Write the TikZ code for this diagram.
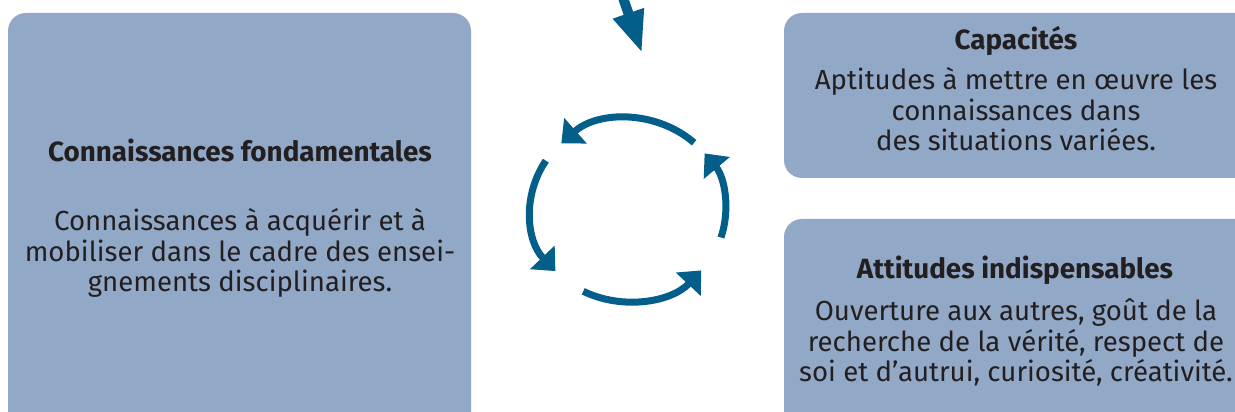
\documentclass[tikz,border=0pt]{standalone}
\usepackage{fontspec}
\setmainfont{Fira Sans}
\usetikzlibrary{arrows.meta}
\definecolor{boxfill}{HTML}{91A8C7}
\definecolor{arrowblue}{HTML}{035F8A}
\definecolor{ink}{HTML}{231F20}
\tikzset{
  panel/.style={fill=boxfill, draw=none, rounded corners=18pt},
  head/.style={font=\fontsize{27.8}{30.5}\selectfont\bfseries, text=ink, anchor=base, inner sep=0pt},
  body/.style={font=\fontsize{27.6}{30.5}\selectfont, text=ink, anchor=base, align=center, inner sep=0pt},
  cyc/.style={draw=arrowblue, line width=7pt, -{Triangle[width=33pt,length=19pt]}},
  bigarrow/.style={draw=arrowblue, line width=10pt, -{Triangle[width=30pt,length=42pt]}}
}
\begin{document}
\begin{tikzpicture}[x=1pt,y=1pt]
\useasboundingbox (0,0) rectangle (1235,412);
\clip (0,0) rectangle (1235,412);
\fill[white] (0,0) rectangle (1235,412);
% panels
\path[panel] (8,-20) rectangle (471,399);
\path[panel] (784,234) rectangle (1260,399);
\path[panel] (784,-20) rectangle (1260,193);
% texts
\node[head] (fh) at (240,250) {Connaissances fondamentales};
\node[body] (fb) at (240,120) {Connaissances à acquérir et à\\mobiliser dans le cadre des ensei-\\gnements disciplinaires.};
\node[head] (ch) at (1016,362) {Capacités};
\node[body] (cb) at (1016,261) {Aptitudes à mettre en œuvre les\\connaissances dans\\des situations variées.};
\node[head] (ah) at (1015,133) {Attitudes indispensables};
\node[body] (ab) at (1016,30) {Ouverture aux autres, goût de la\\recherche de la vérité, respect de\\soi et d’autrui, curiosité, créativité.};
% arrows
\coordinate (top) at (619,426);
\coordinate (toptip) at (642,359);
\draw[bigarrow] (top) -- (toptip);
\coordinate (c) at (628,202);
\draw[cyc] (c) ++(47.3:97.5 and 91.5) arc[start angle=47.3, end angle=133.2, x radius=97.5, y radius=91.5];
\draw[cyc] (c) ++(147.4:97.5 and 91.5) arc[start angle=147.4, end angle=221.9, x radius=97.5, y radius=91.5];
\draw[cyc] (c) ++(242.7:97.5 and 91.5) arc[start angle=242.7, end angle=318.7, x radius=97.5, y radius=91.5];
\draw[cyc] (c) ++(342.5:97.5 and 91.5) arc[start angle=342.5, end angle=398.2, x radius=97.5, y radius=91.5];
\end{tikzpicture}
\end{document}
